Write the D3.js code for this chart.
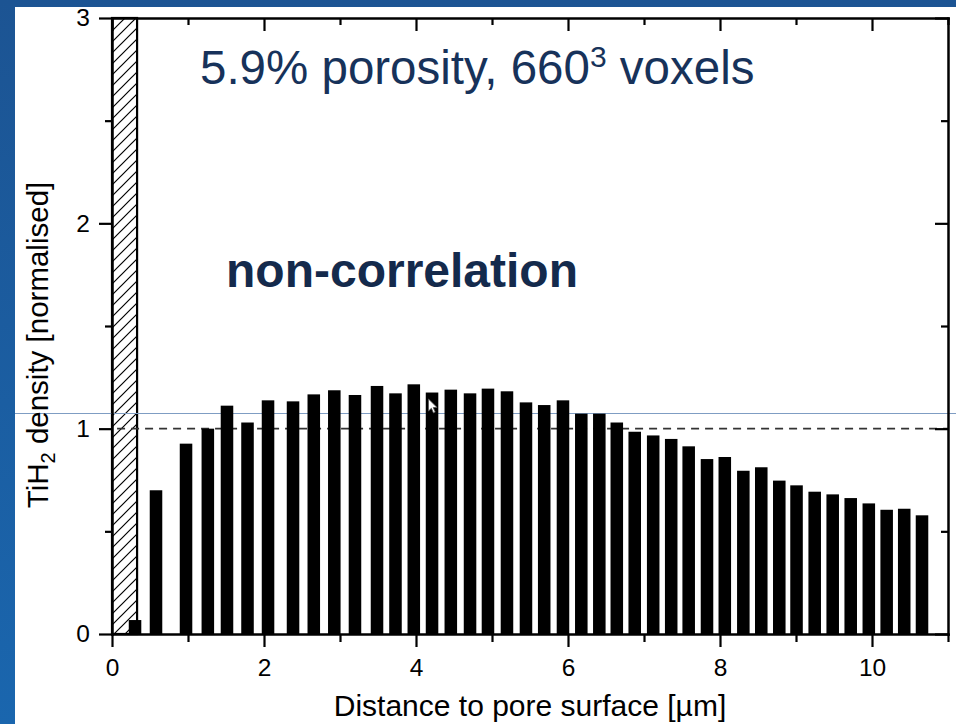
<!DOCTYPE html>
<html>
<head>
<meta charset="utf-8">
<script src="https://cdn.jsdelivr.net/npm/d3@7"></script>
<style>
  html, body { margin: 0; padding: 0; background: #fff; }
  svg { display: block; }
  text { font-family: "Liberation Sans", Arial, Helvetica, sans-serif; }
</style>
</head>
<body>
<script>
// ---- data ----
const distance = [0.303,0.579,0.974,1.261,1.513,1.783,2.053,2.382,2.655,2.925,3.197,3.487,3.730,3.971,4.211,4.458,4.711,4.947,5.197,5.447,5.687,5.934,6.175,6.412,6.642,6.878,7.121,7.358,7.588,7.829,8.063,8.307,8.543,8.780,9.007,9.246,9.483,9.720,9.958,10.193,10.424,10.658];
const density = [0.068,0.70,0.927,1.0,1.112,1.03,1.138,1.133,1.167,1.187,1.164,1.208,1.172,1.216,1.176,1.19,1.172,1.195,1.182,1.128,1.115,1.138,1.073,1.073,1.03,0.985,0.967,0.95,0.914,0.852,0.862,0.795,0.812,0.747,0.724,0.693,0.68,0.662,0.636,0.605,0.61,0.578];
const xMajorTicks = [0,2,4,6,8,10];
const xMinorTicks = [1,3,5,7,9,11];
const yMajorTicks = [0,1,2,3];
const yMinorTicks = [0.5,1.5,2.5];
const poreRegion = [0, 0.33];
const referenceLevel = 1;
const xDomain = [0, 11];
const yDomain = [0, 3];
const binWidth = 0.165;
const titleText = "5.9% porosity, 660";
const titleSup = "3";
const titleRest = " voxels";
const noteText = "non-correlation";
const xLabel = "Distance to pore surface [µm]";

// ---- layout ----
const W = 956, H = 724;
const L = 112, R = 948, T = 18, B = 634;

const svg = d3.select("body").append("svg").attr("width", W).attr("height", H);
const defs = svg.append("defs");
const grad = defs.append("linearGradient").attr("id", "bg").attr("x1", 0).attr("y1", 0).attr("x2", 0).attr("y2", 1);
grad.append("stop").attr("offset", "0%").attr("stop-color", "#1c5493");
grad.append("stop").attr("offset", "100%").attr("stop-color", "#1a66ae");
const pat = defs.append("pattern").attr("id", "hatch").attr("patternUnits", "userSpaceOnUse")
  .attr("width", 11).attr("height", 11);
pat.append("rect").attr("width", 11).attr("height", 11).attr("fill", "#fff");
pat.append("path").attr("d", "M-2,13 L13,-2 M-2,2 L2,-2 M9,13 L13,9")
  .attr("stroke", "#000").attr("stroke-width", 1.2);

svg.append("rect").attr("width", W).attr("height", H).attr("fill", "url(#bg)");
svg.append("rect").attr("x", 15).attr("y", 7).attr("width", W - 15).attr("height", H - 7).attr("fill", "#fff");

const x = d3.scaleLinear().domain(xDomain).range([L, R]);
const y = d3.scaleLinear().domain(yDomain).range([B, T]);

// hatched pore region
svg.append("rect")
  .attr("x", x(poreRegion[0])).attr("y", y(yDomain[1]))
  .attr("width", x(poreRegion[1]) - x(poreRegion[0]))
  .attr("height", y(yDomain[0]) - y(yDomain[1]))
  .attr("fill", "url(#hatch)").attr("stroke", "#000").attr("stroke-width", 2.2);

// dashed reference line
svg.append("line")
  .attr("x1", x(poreRegion[1]) - 20).attr("x2", R)
  .attr("y1", y(referenceLevel)).attr("y2", y(referenceLevel))
  .attr("stroke", "#333").attr("stroke-width", 1.6).attr("stroke-dasharray", "8,6");

// thin artifact line across slide
svg.append("line").attr("x1", 15).attr("x2", W).attr("y1", 413.5).attr("y2", 413.5)
  .attr("stroke", "#7f9dc3").attr("stroke-width", 1);

// bars
svg.append("g").selectAll("rect").data(distance).join("rect")
  .attr("x", (d) => x(d - binWidth / 2))
  .attr("width", x(binWidth) - x(0))
  .attr("y", (d, i) => y(density[i]))
  .attr("height", (d, i) => y(0) - y(density[i]))
  .attr("fill", "#000");

// axes
function styleAxis(g, w) {
  g.select(".domain").attr("stroke-width", w).attr("stroke-linecap", "square");
  g.selectAll(".tick line").attr("stroke-width", 2.2);
  g.selectAll(".tick text").attr("font-size", 24.5).attr("fill", "#000");
}
svg.append("g").attr("transform", `translate(0,${B})`)
  .call(d3.axisBottom(x).tickValues(xMajorTicks).tickSize(13).tickPadding(12).tickSizeOuter(0).tickFormat(d3.format("d")))
  .call(g => styleAxis(g, 2.5));
svg.append("g").attr("transform", `translate(0,${B})`)
  .call(d3.axisBottom(x).tickValues(xMinorTicks).tickSize(8).tickSizeOuter(0).tickFormat(""))
  .call(g => { g.select(".domain").remove(); g.selectAll(".tick line").attr("stroke-width", 2.2); });
svg.append("g").attr("transform", `translate(0,${T})`)
  .call(d3.axisTop(x).tickValues(xMajorTicks).tickSize(-13).tickSizeOuter(0).tickFormat(""))
  .call(g => styleAxis(g, 2.5));
svg.append("g").attr("transform", `translate(0,${T})`)
  .call(d3.axisTop(x).tickValues(xMinorTicks).tickSize(-7).tickSizeOuter(0).tickFormat(""))
  .call(g => { g.select(".domain").remove(); g.selectAll(".tick line").attr("stroke-width", 2.2); });
svg.append("g").attr("transform", `translate(${L},0)`)
  .call(d3.axisLeft(y).tickValues(yMajorTicks).tickSize(13).tickPadding(9).tickSizeOuter(0).tickFormat(d3.format("d")))
  .call(g => styleAxis(g, 2.5));
svg.append("g").attr("transform", `translate(${L},0)`)
  .call(d3.axisLeft(y).tickValues(yMinorTicks).tickSize(7).tickSizeOuter(0).tickFormat(""))
  .call(g => { g.select(".domain").remove(); g.selectAll(".tick line").attr("stroke-width", 2.2); });
svg.append("g").attr("transform", `translate(${R},0)`)
  .call(d3.axisRight(y).tickValues(yMajorTicks).tickSize(-13).tickSizeOuter(0).tickFormat(""))
  .call(g => styleAxis(g, 2.5));
svg.append("g").attr("transform", `translate(${R},0)`)
  .call(d3.axisRight(y).tickValues(yMinorTicks).tickSize(-7).tickSizeOuter(0).tickFormat(""))
  .call(g => { g.select(".domain").remove(); g.selectAll(".tick line").attr("stroke-width", 2.2); });

// axis titles
svg.append("text").attr("x", 530).attr("y", 716).attr("text-anchor", "middle")
  .attr("font-size", 30).attr("fill", "#000").text(xLabel);
const yt = svg.append("text").attr("transform", "translate(48,345) rotate(-90)")
  .attr("text-anchor", "middle").attr("font-size", 29.5).attr("fill", "#000");
yt.append("tspan").text("TiH");
yt.append("tspan").attr("font-size", 20).attr("dy", 7).text("2");
yt.append("tspan").attr("dy", -7).text(" density [normalised]");

// annotations
const tt = svg.append("text").attr("x", 200).attr("y", 84).attr("font-size", 47.5).attr("fill", "#17325a");
tt.append("tspan").text(titleText);
tt.append("tspan").attr("font-size", 30).attr("dy", -17).text(titleSup);
tt.append("tspan").attr("dy", 17).text(titleRest);

svg.append("text").attr("x", 226).attr("y", 287).attr("font-size", 48).attr("font-weight", "bold")
  .attr("fill", "#142a4c").text(noteText);

// mouse cursor
svg.append("path")
  .attr("transform", "translate(428.5,399) scale(0.8)")
  .attr("d", "M0,0 L0,15 L3.6,11.6 L6.2,17.4 L8.4,16.4 L5.9,10.7 L10.8,10.7 Z")
  .attr("fill", "#fff").attr("stroke", "#555").attr("stroke-width", 1);
</script>
</body>
</html>
